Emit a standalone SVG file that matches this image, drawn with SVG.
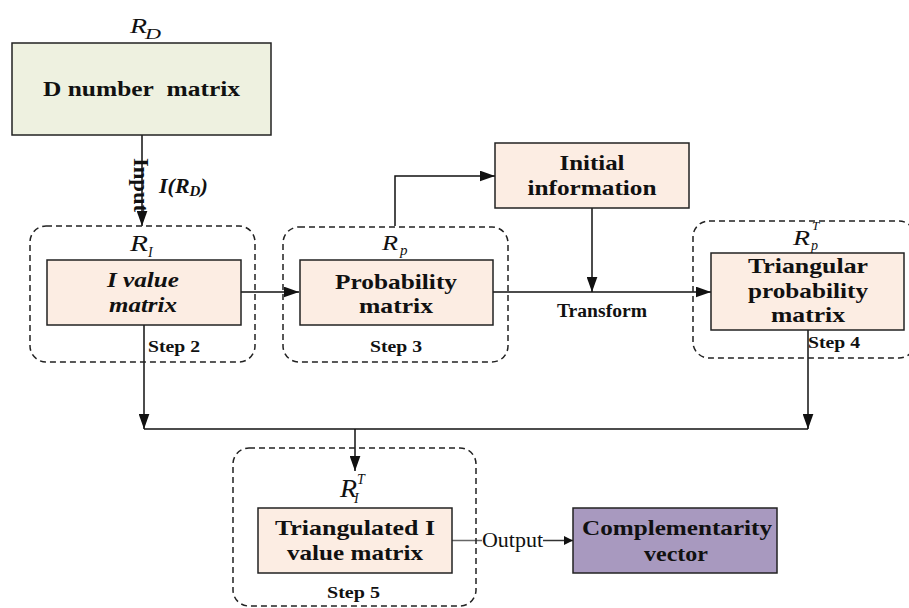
<svg xmlns="http://www.w3.org/2000/svg" width="909" height="608" viewBox="0 0 909 608">
<defs>
<marker id="ah" viewBox="0 0 10 10" refX="10" refY="5" markerWidth="11" markerHeight="9" markerUnits="userSpaceOnUse" orient="auto"><path d="M0,0 L10,5 L0,10 z" fill="#111"/></marker>
<marker id="ahl" viewBox="0 0 14 10" refX="14" refY="5" markerWidth="15" markerHeight="11" markerUnits="userSpaceOnUse" orient="auto"><path d="M0,0 L14,5 L0,10 z" fill="#111"/></marker>
<style>
text{font-family:"Liberation Serif","Times New Roman",serif;fill:#111}
.box{stroke:#222;stroke-width:1.5}
.peach{fill:#fcede3}
.grp{fill:none;stroke:#222;stroke-width:1.5;stroke-dasharray:6,4}
.t{font-weight:bold;font-size:22px;text-anchor:middle}
.s{font-weight:bold;font-size:17px}
.r{font-style:italic;font-size:20px}
.sub{font-style:italic;font-size:14px}
.c{fill:none;stroke:#111;stroke-width:1.5}
</style>
</defs>
<g id="connectors">
<path class="c" d="M142,135 V226" marker-end="url(#ahl)"/>
<path class="c" d="M241,292 H299" marker-end="url(#ahl)"/>
<path class="c" d="M395,226 V176 H495" marker-end="url(#ahl)"/>
<path class="c" d="M592,208 V292" marker-end="url(#ahl)"/>
<path class="c" d="M493,292 H711" marker-end="url(#ahl)"/>
<path class="c" d="M144,325 V429" marker-end="url(#ahl)"/>
<path class="c" d="M808,330 V429" marker-end="url(#ahl)"/>
<path class="c" d="M144,429 H808"/>
<path class="c" d="M355,429 V471" marker-end="url(#ahl)"/>
<path d="M452,540.5 H482" stroke="#666" stroke-width="1.5" fill="none"/>
<path d="M543,540.5 H573" stroke="#333" stroke-width="1.5" fill="none" marker-end="url(#ah)"/>
<text x="0" y="0" transform="translate(134,158) rotate(90)" style="font-weight:bold;font-size:20px" textLength="54" lengthAdjust="spacingAndGlyphs">Input</text>
<text x="159" y="193" style="font-weight:bold;font-style:italic;font-size:22px">I(R<tspan style="font-size:15px" dy="3">D</tspan><tspan dy="-3">)</tspan></text>
<text x="557" y="317" style="font-weight:bold;font-size:18px" textLength="90" lengthAdjust="spacingAndGlyphs">Transform</text>
<text x="482" y="547" style="font-size:21px" textLength="61" lengthAdjust="spacingAndGlyphs">Output</text>
</g>
<g id="d-number-matrix">
<text x="130" y="33" class="r" textLength="17" lengthAdjust="spacingAndGlyphs">R</text><text x="145" y="39" class="sub" style="font-size:15px" textLength="16" lengthAdjust="spacingAndGlyphs">D</text>
<rect class="box" x="12" y="43" width="259" height="92" fill="#eef1e0"/>
<text x="43" y="96" style="font-weight:bold;font-size:20px" textLength="197" lengthAdjust="spacingAndGlyphs">D number&#160; matrix</text>
</g>
<g id="step2">
<rect class="grp" x="30" y="226" width="225" height="136" rx="16"/>
<text x="130" y="251" class="r" style="font-size:23px" textLength="18" lengthAdjust="spacingAndGlyphs">R</text><text x="148" y="257" class="sub">I</text>
<rect class="box peach" x="47" y="260" width="194" height="65"/>
<text x="143" y="287" class="t" style="font-style:italic" textLength="72" lengthAdjust="spacingAndGlyphs">I value</text>
<text x="143" y="312" class="t" style="font-style:italic" textLength="68" lengthAdjust="spacingAndGlyphs">matrix</text>
<text x="148" y="352" class="s" textLength="52" lengthAdjust="spacingAndGlyphs">Step 2</text>
</g>
<g id="step3">
<rect class="grp" x="283" y="227" width="225" height="135" rx="16"/>
<text x="382" y="250" class="r" textLength="16" lengthAdjust="spacingAndGlyphs">R</text><text x="400" y="255" class="sub" style="font-size:15px">p</text>
<rect class="box peach" x="300" y="260" width="193" height="65"/>
<text x="396" y="289" class="t" textLength="122" lengthAdjust="spacingAndGlyphs">Probability</text>
<text x="396" y="313" class="t" textLength="74" lengthAdjust="spacingAndGlyphs">matrix</text>
<text x="370" y="352" class="s" textLength="52" lengthAdjust="spacingAndGlyphs">Step 3</text>
</g>
<g id="initial-information">
<rect class="box peach" x="495" y="143" width="194" height="65"/>
<text x="592" y="170" class="t" textLength="65" lengthAdjust="spacingAndGlyphs">Initial</text>
<text x="592" y="195" class="t" textLength="129" lengthAdjust="spacingAndGlyphs">information</text>
</g>
<g id="step4">
<rect class="grp" x="693" y="221" width="222" height="137" rx="16"/>
<text x="793" y="245" class="r" textLength="17" lengthAdjust="spacingAndGlyphs">R</text><text x="812" y="230" class="sub" style="font-size:13px">T</text><text x="811" y="250" class="sub">p</text>
<rect class="box peach" x="711" y="253" width="193" height="77"/>
<text x="808" y="273" class="t" textLength="120" lengthAdjust="spacingAndGlyphs">Triangular</text>
<text x="808" y="298" class="t" textLength="120" lengthAdjust="spacingAndGlyphs">probability</text>
<text x="808" y="322" class="t" textLength="74" lengthAdjust="spacingAndGlyphs">matrix</text>
<text x="808" y="348" class="s" textLength="52" lengthAdjust="spacingAndGlyphs">Step 4</text>
</g>
<g id="step5">
<rect class="grp" x="233" y="448" width="243" height="158" rx="16"/>
<text x="340" y="497" class="r" style="font-size:25px" textLength="17" lengthAdjust="spacingAndGlyphs">R</text><text x="357" y="484" class="sub">T</text><text x="354" y="503" class="sub">I</text>
<rect class="box peach" x="258" y="508" width="194" height="65"/>
<text x="355" y="535" class="t" textLength="160" lengthAdjust="spacingAndGlyphs">Triangulated I</text>
<text x="355" y="560" class="t" textLength="136" lengthAdjust="spacingAndGlyphs">value matrix</text>
<text x="327" y="598" class="s" textLength="53" lengthAdjust="spacingAndGlyphs">Step 5</text>
</g>
<g id="complementarity-vector">
<rect class="box" x="573" y="508" width="204" height="65" fill="#a899bf"/>
<text x="677" y="535" class="t" textLength="190" lengthAdjust="spacingAndGlyphs">Complementarity</text>
<text x="676" y="561" class="t" textLength="64" lengthAdjust="spacingAndGlyphs">vector</text>
</g>
</svg>
